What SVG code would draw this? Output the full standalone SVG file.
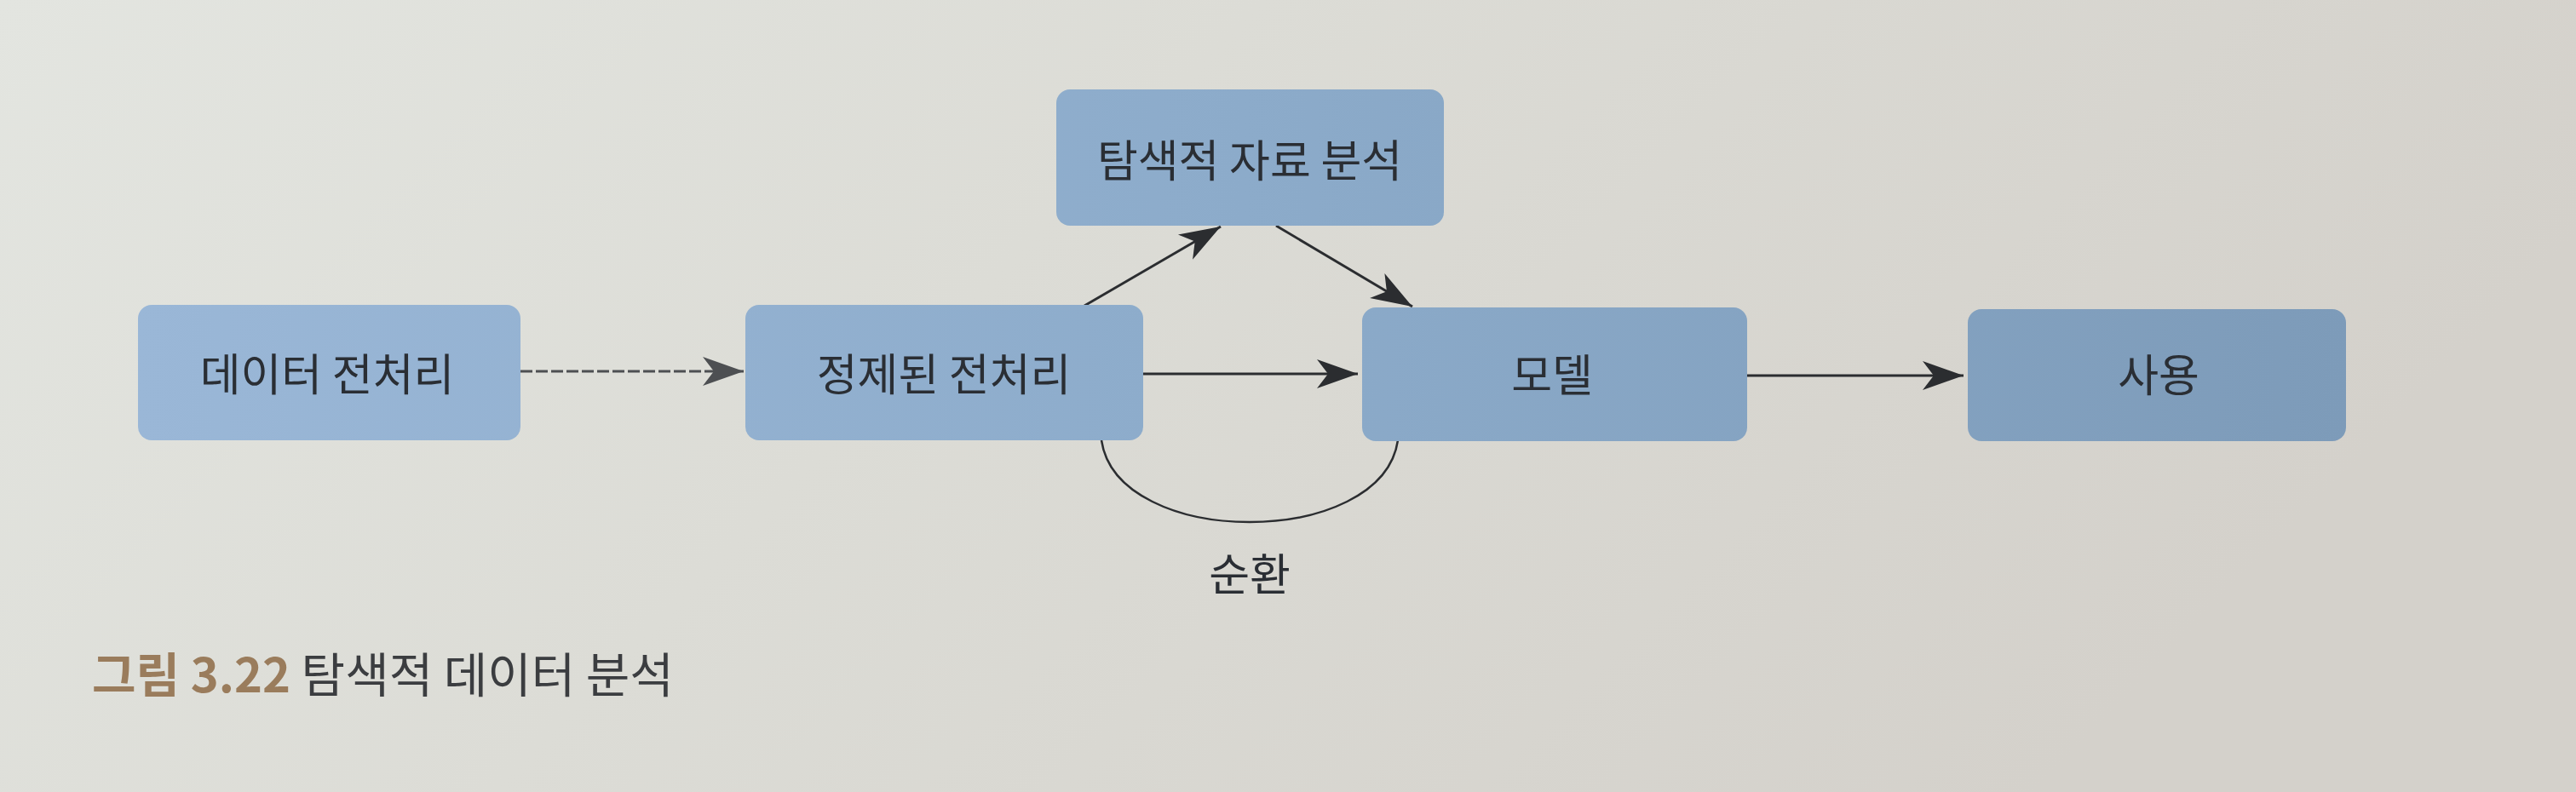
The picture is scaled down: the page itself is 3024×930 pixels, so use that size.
<svg xmlns="http://www.w3.org/2000/svg" width="3024" height="930" viewBox="0 0 3024 930">
<defs>
  <linearGradient id="bg" x1="0" y1="0" x2="1" y2="0.3">
    <stop offset="0" stop-color="#e3e5e0"/>
    <stop offset="0.45" stop-color="#dcdcd6"/>
    <stop offset="1" stop-color="#d4d1cb"/>
  </linearGradient>
  <linearGradient id="boxfill" gradientUnits="userSpaceOnUse" x1="160" y1="0" x2="2760" y2="0">
    <stop offset="0" stop-color="#9ab7d7"/>
    <stop offset="0.5" stop-color="#8cabca"/>
    <stop offset="1" stop-color="#7d9bb9"/>
  </linearGradient>
  <marker id="ah" markerUnits="userSpaceOnUse" markerWidth="50" markerHeight="38" refX="48" refY="19" orient="auto">
    <path d="M0,2 L48,19 L0,36 L13,19 Z" fill="#2b2d30"/>
  </marker>
  <marker id="ahg" markerUnits="userSpaceOnUse" markerWidth="50" markerHeight="38" refX="48" refY="19" orient="auto">
    <path d="M0,2 L48,19 L0,36 L13,19 Z" fill="#4d4f52"/>
  </marker>
</defs>
<style>
  .box{fill:url(#boxfill)}
  .lbl{font-family:"Noto Sans CJK KR","Noto Sans",sans-serif;font-size:52px;fill:#2a2e34;text-anchor:middle}
  .conn{stroke:#2b2d30;stroke-width:3;fill:none}
  .dash{stroke:#4d4f52;stroke-width:3;fill:none;stroke-dasharray:14 4}
  .cap{font-family:"Noto Sans CJK KR","Noto Sans",sans-serif;font-size:56px}
</style>
<rect x="0" y="0" width="3024" height="930" fill="url(#bg)"/>

<g id="connectors">
  <path class="dash" d="M611,436 L873,436" marker-end="url(#ahg)"/>
  <path class="conn" d="M1342,439 L1594,439" marker-end="url(#ah)"/>
  <path class="conn" d="M1273,359 L1433,266" marker-end="url(#ah)"/>
  <path class="conn" d="M1498,265 L1658,360" marker-end="url(#ah)"/>
  <path class="conn" d="M2051,441 L2305,441" marker-end="url(#ah)"/>
  <path class="conn" style="stroke-width:2.5" d="M1293,517 C1312,645 1622,645 1641,517"/>
  <text class="lbl" x="1467" y="694">순환</text>
</g>

<g id="node-data-preprocessing">
  <rect class="box" x="162" y="358" width="449" height="159" rx="16"/>
  <text class="lbl" x="384" y="459">데이터 전처리</text>
</g>
<g id="node-refined-preprocessing">
  <rect class="box" x="875" y="358" width="467" height="159" rx="16"/>
  <text class="lbl" x="1108" y="459">정제된 전처리</text>
</g>
<g id="node-eda">
  <rect class="box" x="1240" y="105" width="455" height="160" rx="16"/>
  <text class="lbl" x="1467" y="208">탐색적 자료 분석</text>
</g>
<g id="node-model">
  <rect class="box" x="1599" y="361" width="452" height="157" rx="16"/>
  <text class="lbl" x="1822" y="460">모델</text>
</g>
<g id="node-use">
  <rect class="box" x="2310" y="363" width="444" height="155" rx="16"/>
  <text class="lbl" x="2534" y="460">사용</text>
</g>

<g id="caption">
  <text class="cap" x="108" y="813"><tspan font-weight="bold" fill="#9a7c5c">그림 3.22</tspan><tspan fill="#3b3d40"> 탐색적 데이터 분석</tspan></text>
</g>
</svg>
